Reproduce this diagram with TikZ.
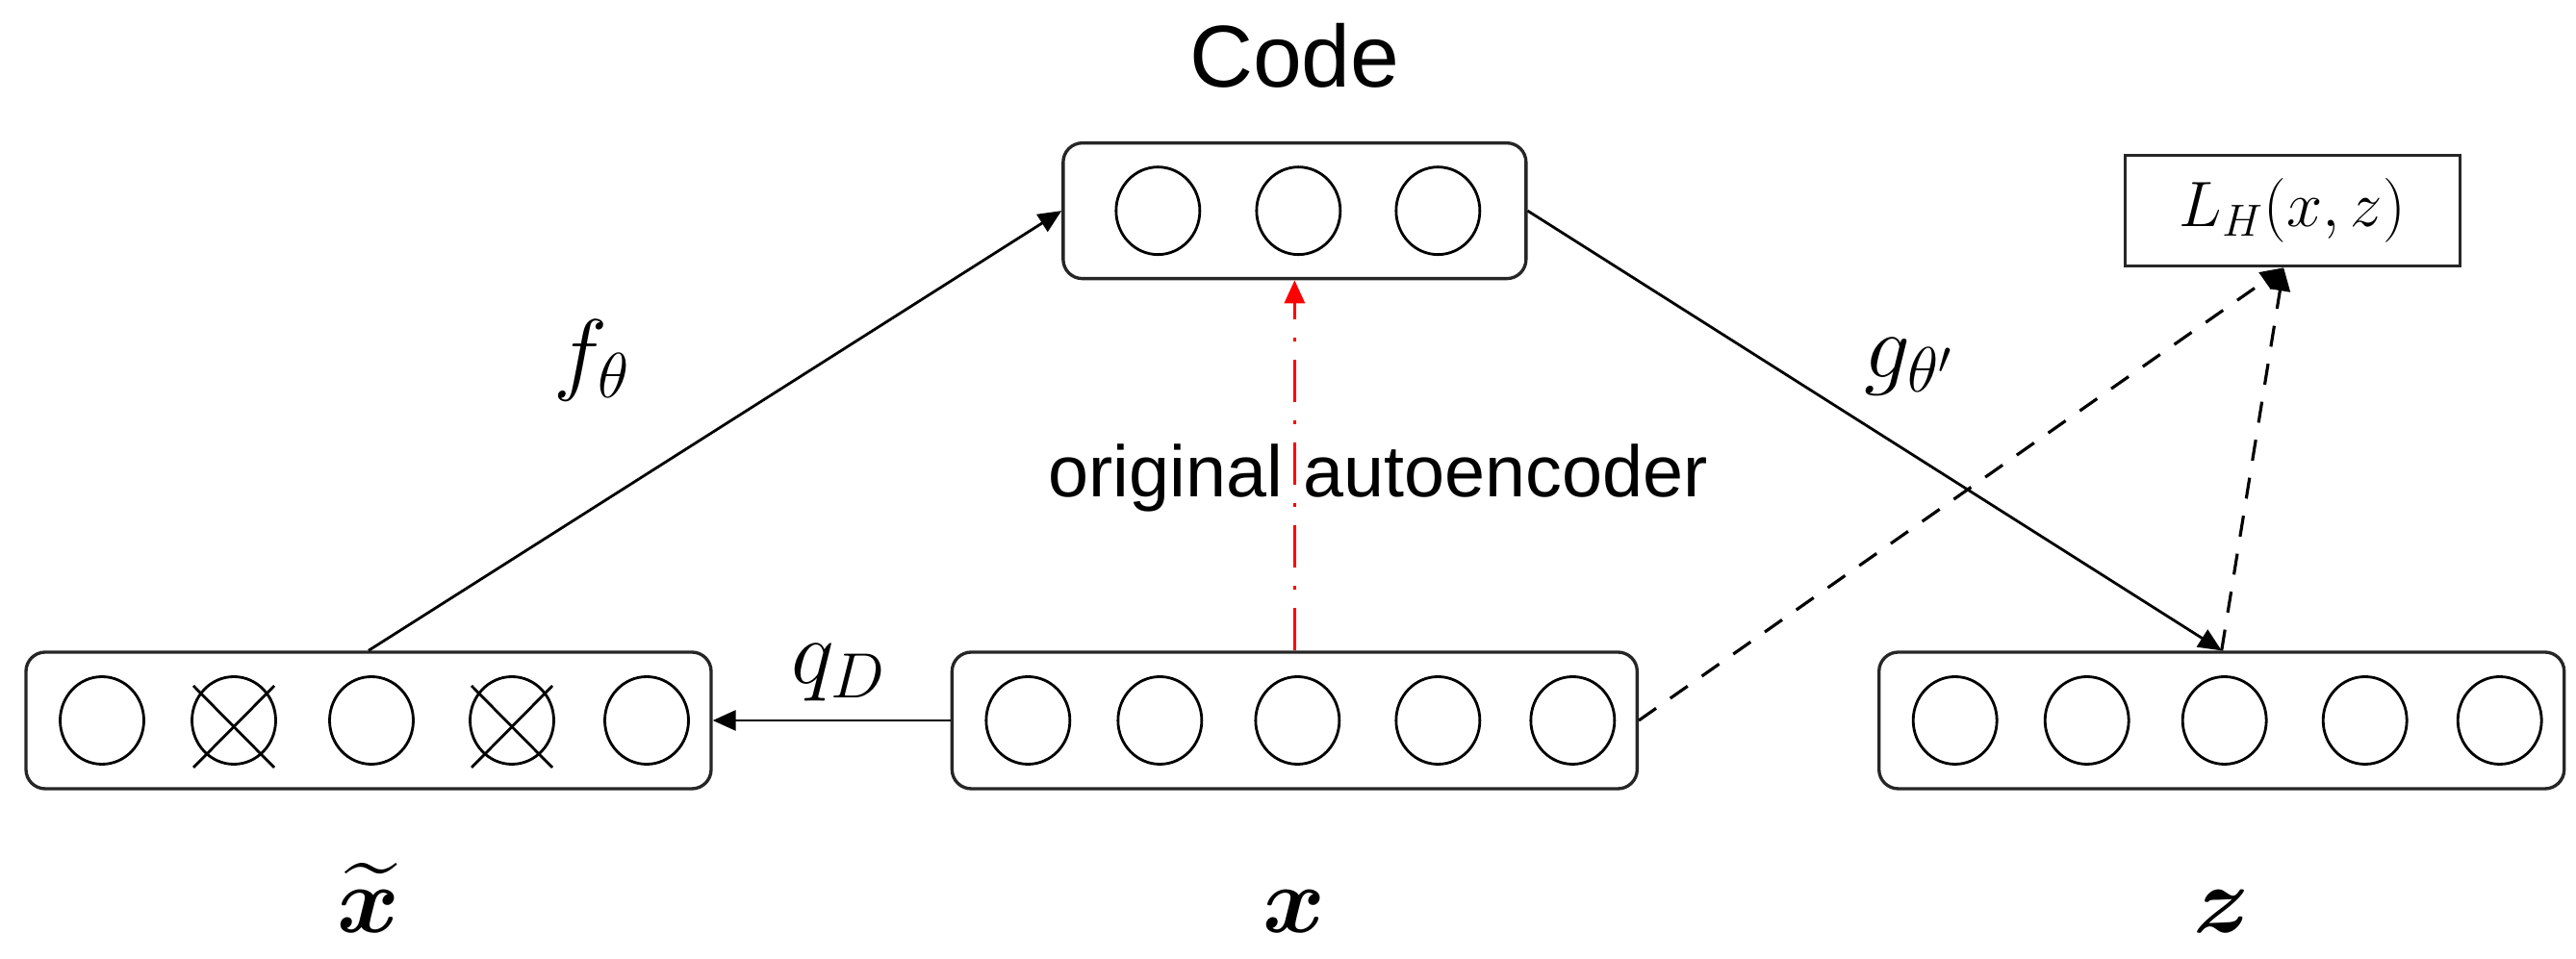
\RequirePackage{fix-cm}
\documentclass[tikz,border=0pt]{standalone}
\usepackage{amssymb,amsmath}
\usepackage{fontspec}
\newfontfamily\arialfont{Liberation Sans}
\usepackage{tikz}
\usetikzlibrary{arrows.meta,positioning,shapes.geometric}
\tikzstyle{vecbox} = [rectangle, rounded corners=0.2cm, draw=black!85, line width=0.95pt, minimum width=7.12cm, minimum height=1.42cm, inner sep=0pt]
\tikzstyle{codebox} = [vecbox, minimum width=4.81cm, minimum height=1.41cm]
\tikzstyle{lossbox} = [rectangle, draw=black!85, line width=0.95pt, minimum width=3.48cm, minimum height=1.15cm, inner sep=0pt, font=\fontsize{19}{22}\selectfont]
\tikzstyle{neuron} = [ellipse, draw=black, line width=0.8pt, minimum width=0.87cm, minimum height=0.91cm, inner sep=0pt]
\tikzstyle{arrow} = [-{Triangle[length=2.4mm,width=2.1mm]}, line width=0.8pt]
\tikzstyle{dasharrow} = [arrow, line width=0.9pt, dash pattern=on 2.2mm off 1.8mm]
\tikzstyle{redarrow} = [arrow, red, line width=0.9pt, dash pattern=on 4.4mm off 1.9mm on 0.4mm off 1.9mm]
\tikzstyle{crossline} = [line width=0.8pt]
\tikzstyle{veclabel} = [inner sep=0pt, font=\fontsize{28}{30}\selectfont]
\tikzstyle{maplabel} = [inner sep=0pt, font=\fontsize{27}{30}\selectfont]
\tikzstyle{textlabel} = [inner sep=0pt, font=\arialfont\fontsize{21.5}{24}\selectfont]
\tikzstyle{titlelabel} = [inner sep=0pt, font=\arialfont\fontsize{26}{28}\selectfont]

\begin{document}
\begin{tikzpicture}
\useasboundingbox (0,0) rectangle (26.77,9.97);
\node[vecbox] (xt) at (3.83,2.48) {};
\node[vecbox, right=2.47cm of xt] (xin) {};
\node[vecbox, right=2.48cm of xin] (zout) {};
\node[codebox, above=3.85cm of xin] (code) {};
\node[lossbox, right=6.19cm of code] (lh) {$L_H(x,z)$};
\node[titlelabel, above=0.55cm of code] (codetitle) {Code};

\foreach \i/\dx in {1/-2.77,2/-1.40,3/0.03,4/1.49,5/2.89} {
  \node[neuron, xshift=\dx cm] (xt-\i) at (xt.center) {};
  \node[neuron, xshift=\dx cm] (xin-\i) at (xin.center) {};
  \node[neuron, xshift=\dx cm] (zout-\i) at (zout.center) {};
}
\foreach \i/\dx in {1/-1.42,2/0.04,3/1.49}
  \node[neuron, xshift=\dx cm] (code-\i) at (code.center) {};
% dropped units
\foreach \i in {2,4} {
  \draw[crossline] ([shift={(-0.42,0.36)}]xt-\i.center) -- ([shift={(0.42,-0.49)}]xt-\i.center);
  \draw[crossline] ([shift={(0.42,0.36)}]xt-\i.center) -- ([shift={(-0.42,-0.49)}]xt-\i.center);
}

\node[veclabel, below=1.48cm of xt, anchor=base] (xtlabel) {$\boldsymbol{\widetilde{x}}$};
\node[veclabel, below=1.48cm of xin, anchor=base] (xinlabel) {$\boldsymbol{x}$};
\node[veclabel, below=1.48cm of zout, anchor=base] (zoutlabel) {$\boldsymbol{z}$};
\node[maplabel, anchor=base west] (flabel) at (5.75,5.98) {$f_\theta$};
\node[maplabel, anchor=base west] (glabel) at (19.37,6.04) {$g_{\theta'}$};
\node[maplabel, anchor=base west] (qlabel) at (8.22,2.86) {$q_D$};
\node[textlabel, anchor=base west] (aelabel) at (10.89,4.80) {original autoencoder};

\draw[arrow] (xt.north) -- (code.west);
\draw[arrow] (code.east) -- (zout.north);
\draw[arrow] (xin.west) -- (xt.east);
\draw[redarrow] (xin.north) -- (code.south);
\draw[dasharrow] (xin.east) -- ([xshift=-0.09cm]lh.south);
\draw[dasharrow] (zout.north) -- ([xshift=-0.09cm]lh.south);
\end{tikzpicture}
\end{document}
